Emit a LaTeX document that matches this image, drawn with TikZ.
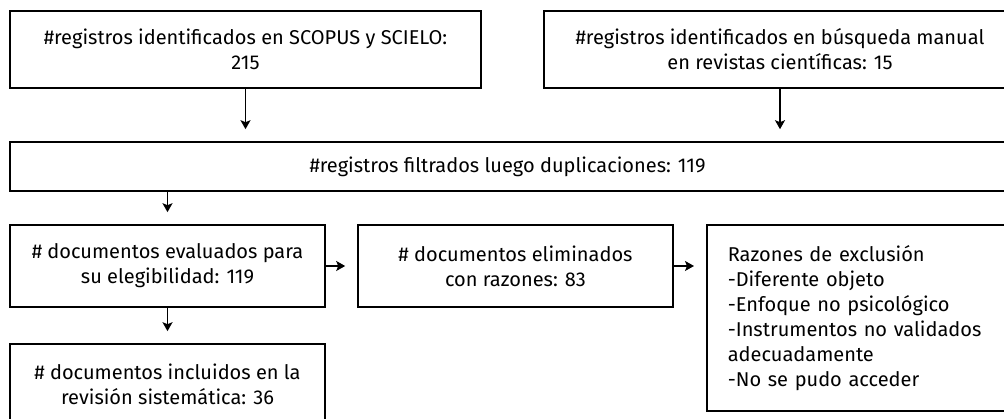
\documentclass[tikz,border=0pt]{standalone}
\usepackage{fontspec}
\setmainfont{Fira Sans}
\usetikzlibrary{arrows.meta}
\begin{document}
\begin{tikzpicture}[x=1pt,y=-1pt,
  box/.style={draw,line width=1.6pt,inner sep=0pt,align=center,font=\fontsize{20}{25}\selectfont},
  arr/.style={line width=1.4pt,-{Stealth[length=9pt,width=10pt,inset=2pt]},shorten >=12pt}]
\useasboundingbox (0,0) rectangle (1004,419);
\clip (0,0) rectangle (1004,419);
\node[box,minimum width=471pt,minimum height=77pt] (b1) at (245.5,49.5)
  {\#registros identificados en SCOPUS y SCIELO:\\215};
\node[box,minimum width=472pt,minimum height=77pt] (b2) at (780,49.5)
  {\#registros identificados en búsqueda manual\\en revistas científicas: 15};
\node[box,minimum width=995pt,minimum height=49pt] (b3) at (507.5,166.5)
  {\#registros filtrados luego duplicaciones: 119};
\node[box,minimum width=315pt,minimum height=82pt] (b4) at (167.5,266)
  {\# documentos evaluados para\\su elegibilidad: 119};
\node[box,minimum width=315pt,minimum height=82pt] (b5) at (515.5,266)
  {\# documentos eliminados\\con razones: 83};
\node[box,minimum width=310pt,minimum height=186pt,align=left,text width=289pt,inner xsep=21pt,anchor=west] (b6) at (706,318)
  {Razones de exclusión\\-Diferente objeto\\-Enfoque no psicológico\\-Instrumentos no validados\\adecuadamente\\-No se pudo acceder};
\node[box,minimum width=315pt,minimum height=80pt] (b7) at (167.5,384)
  {\# documentos incluidos en la\\revisión sistemática: 36};
\draw[arr] (b1.south) -- (b1.south |- b3.north);
\draw[arr] (b2.south) -- (b2.south |- b3.north);
\draw[arr] (b4.north |- b3.south) -- (b4.north);
\draw[arr] (b4.east) -- (b5.west);
\draw[arr] (b5.east) -- (b5.east -| b6.west);
\draw[arr] (b4.south) -- (b7.north);
\end{tikzpicture}
\end{document}
